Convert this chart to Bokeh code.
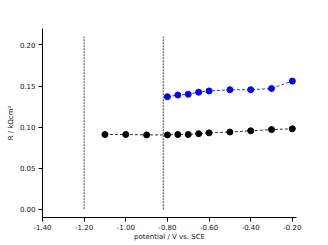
from bokeh.plotting import figure
from bokeh.models import Range1d, FixedTicker, NumeralTickFormatter
from bokeh.embed import file_html
from bokeh.resources import INLINE

# data
x_black = [-1.10, -1.00, -0.90, -0.80, -0.75, -0.70, -0.65, -0.60, -0.50, -0.40, -0.30, -0.20]
y_black = [0.091, 0.091, 0.0905, 0.0905, 0.091, 0.091, 0.092, 0.093, 0.094, 0.0955, 0.097, 0.098]
x_blue = [-0.80, -0.75, -0.70, -0.65, -0.60, -0.50, -0.40, -0.30, -0.20]
y_blue = [0.137, 0.139, 0.140, 0.1425, 0.144, 0.1455, 0.1455, 0.147, 0.156]
vline_x = [-1.20, -0.82]
vline_y0 = [0.0, 0.0]
vline_y1 = [0.21, 0.21]
x_ticks = [-1.40, -1.20, -1.00, -0.80, -0.60, -0.40, -0.20]
y_ticks = [0.00, 0.05, 0.10, 0.15, 0.20]

FONT = "DejaVu Sans"

p = figure(width=328, height=245, output_backend="svg", toolbar_location=None,
           x_range=Range1d(-1.40, -0.18), y_range=Range1d(-0.01, 0.22),
           min_border_left=42, min_border_right=32, min_border_top=28, min_border_bottom=28)
p.outline_line_color = None
p.xgrid.visible = False
p.ygrid.visible = False
p.background_fill_color = "white"

p.segment(x0=vline_x, y0=vline_y0, x1=vline_x, y1=vline_y1,
          line_color="#444444", line_width=1, line_dash="2 1")

p.line(x_black, y_black, line_color="black", line_width=0.8, line_dash="3 2")
p.scatter(x_black, y_black, size=6, fill_color="black", line_color="black")
p.line(x_blue, y_blue, line_color="#0000ff", line_width=0.8, line_dash="3 2")
p.scatter(x_blue, y_blue, size=6, fill_color="#0000ff", line_color="#0000ff")

for ax in (p.xaxis[0], p.yaxis[0]):
    ax.major_label_text_font = FONT
    ax.major_label_text_font_size = "7px"
    ax.major_label_text_color = "#111111"
    ax.axis_label_text_font = FONT
    ax.axis_label_text_font_size = "7px"
    ax.axis_label_text_font_style = "normal"
    ax.axis_label_text_color = "#111111"
    ax.minor_tick_line_color = None
    ax.major_tick_out = 4
    ax.major_tick_in = 0
    ax.axis_line_color = "black"
    ax.major_tick_line_color = "black"
    ax.major_label_standoff = 3

p.xaxis.major_label_standoff = 2
p.xaxis.axis_label_standoff = 0
p.yaxis.axis_label_standoff = 2
p.xaxis.ticker = FixedTicker(ticks=x_ticks)
p.yaxis.ticker = FixedTicker(ticks=y_ticks)
p.xaxis.formatter = NumeralTickFormatter(format="0.00")
p.yaxis.formatter = NumeralTickFormatter(format="0.00")
p.xaxis.axis_label = "potential / V vs. SCE"
p.yaxis.axis_label = "R / kΩcm²"

open("out.html", "w").write(file_html(p, INLINE))
